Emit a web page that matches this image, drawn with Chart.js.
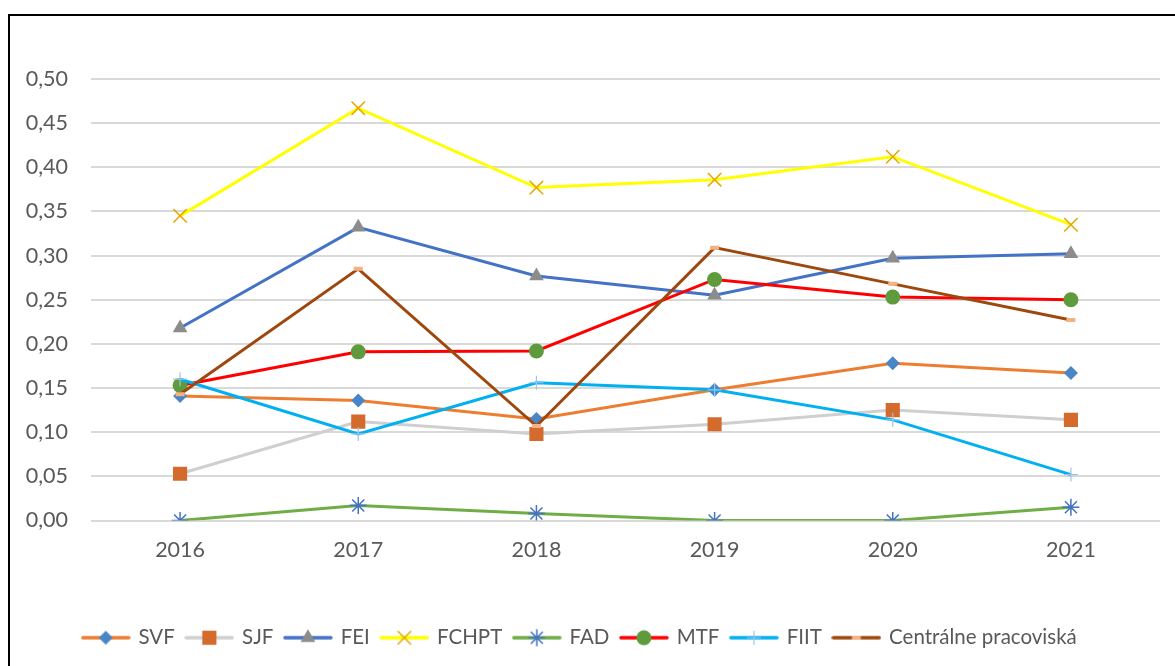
<!DOCTYPE html>
<html lang="sk">
<head>
  <meta charset="UTF-8">
  <title>Fakulty 2016-2021</title>
  <script src="https://cdn.jsdelivr.net/npm/chart.js"></script>
  <style>
    body {
      margin: 0;
      background: #fff;
      overflow: hidden;
    }

    #wrap {
      position: absolute;
      left: 0;
      top: 0;
      width: 1175px;
      height: 666px;
    }

    .frame {
      position: absolute;
      left: 8px;
      top: 14px;
      width: 1200px;
      height: 700px;
      border: 2px solid #000;
      pointer-events: none;
    }
  </style>
</head>
<body>

  <div id="wrap">
    <canvas id="lineChart" width="1175" height="666"></canvas>
    <div class="frame"></div>
  </div>

  <script>
    const years = ['2016', '2017', '2018', '2019', '2020', '2021'];

    const svf     = [0.141, 0.136, 0.115, 0.148, 0.178, 0.167];
    const sjf     = [0.053, 0.112, 0.098, 0.109, 0.125, 0.114];
    const fei     = [0.218, 0.332, 0.277, 0.255, 0.297, 0.302];
    const fchpt   = [0.345, 0.467, 0.377, 0.386, 0.412, 0.335];
    const fad     = [0.000, 0.017, 0.008, 0.000, 0.000, 0.015];
    const mtf     = [0.153, 0.191, 0.192, 0.273, 0.253, 0.250];
    const fiit    = [0.160, 0.098, 0.156, 0.148, 0.114, 0.052];
    const central = [0.143, 0.285, 0.107, 0.309, 0.268, 0.227];

    const yMin = 0;
    const yMax = 0.5;
    const yStep = 0.05;

    const textColor = '#595959';
    const family = 'Lato, "Liberation Sans", sans-serif';
    const axisFont = { family: family, size: 21.5 };
    const legendFont = { family: family, size: 20.5 };

    // line colour, marker style, marker fill, marker stroke, radius, stroke width
    function series(label, data, line, style, fill, stroke, radius, bw) {
      return {
        label: label,
        data: data,
        borderColor: line,
        backgroundColor: line,
        borderWidth: 3,
        tension: 0,
        pointStyle: style,
        pointRadius: radius,
        pointHoverRadius: radius,
        pointBackgroundColor: fill,
        pointBorderColor: stroke,
        pointBorderWidth: bw
      };
    }

    const datasets = [
      series('SVF', svf, '#ED7D31', 'rectRot', '#4A86C5', '#4A86C5', 7, 0),
      series('SJF', sjf, '#CFCFCF', 'rect', '#D46A2C', '#D46A2C', 10, 0),
      series('FEI', fei, '#4472C4', 'triangle', '#8C8C8C', '#8C8C8C', 8.5, 0),
      series('FCHPT', fchpt, '#FFFF00', 'crossRot', '#E6A700', '#E6A700', 9.5, 1.5),
      series('FAD', fad, '#70AD47', 'star', '#4472C4', '#4472C4', 8.5, 1.5),
      series('MTF', mtf, '#FF0000', 'circle', '#5F9B3C', '#5F9B3C', 7.5, 0),
      series('FIIT', fiit, '#00B0F0', 'cross', '#9DC3E6', '#9DC3E6', 7, 1.2),
      series('Centrálne pracoviská', central, '#9E480E', 'line', '#F4B183', '#F4B183', 4.5, 4)
    ];
    // later series sit on top
    datasets.forEach((d, i) => { d.order = datasets.length - i; });

    // small line + marker picture for each legend entry
    function legendIcon(ds) {
      const c = document.createElement('canvas');
      c.width = 50;
      c.height = 22;
      const ctx = c.getContext('2d');
      ctx.strokeStyle = ds.borderColor;
      ctx.lineWidth = 3.5;
      ctx.lineCap = 'round';
      ctx.beginPath();
      ctx.moveTo(2, 11);
      ctx.lineTo(48, 11);
      ctx.stroke();
      ctx.lineCap = 'butt';
      ctx.fillStyle = ds.pointBackgroundColor;
      ctx.strokeStyle = ds.pointBorderColor;
      ctx.lineWidth = ds.pointBorderWidth;
      Chart.helpers.drawPoint(ctx, {
        pointStyle: ds.pointStyle,
        radius: ds.pointRadius,
        borderWidth: ds.pointBorderWidth,
        rotation: 0
      }, 25, 11);
      return c;
    }

    const ctx = document.getElementById('lineChart').getContext('2d');
    new Chart(ctx, {
      type: 'line',
      data: { labels: years, datasets: datasets },
      options: {
        responsive: false,
        animation: false,
        layout: { padding: { left: 0, right: 15, top: 79, bottom: 8 } },
        plugins: {
          tooltip: { enabled: false },
          legend: {
            position: 'bottom',
            labels: {
              usePointStyle: true,
              pointStyleWidth: 45,
              padding: 12,
              color: textColor,
              font: legendFont,
              generateLabels: chart => chart.data.datasets.map((ds, i) => ({
                text: ds.label,
                pointStyle: legendIcon(ds),
                fillStyle: ds.borderColor,
                strokeStyle: ds.borderColor,
                lineWidth: 0,
                hidden: false,
                datasetIndex: i,
                fontColor: textColor
              }))
            }
          }
        },
        scales: {
          x: {
            offset: true,
            grid: { display: false },
            border: { display: false },
            ticks: { color: textColor, font: axisFont, padding: 9 },
            afterFit: s => { s.height = 95; }
          },
          y: {
            min: yMin,
            max: yMax,
            grid: { color: '#D9D9D9', lineWidth: 2, drawTicks: false },
            border: { display: false },
            ticks: {
              stepSize: yStep,
              color: textColor,
              font: axisFont,
              padding: 23,
              callback: v => v.toFixed(2).replace('.', ',')
            },
            afterFit: s => { s.width = 91; }
          }
        }
      }
    });
  </script>

</body>
</html>
